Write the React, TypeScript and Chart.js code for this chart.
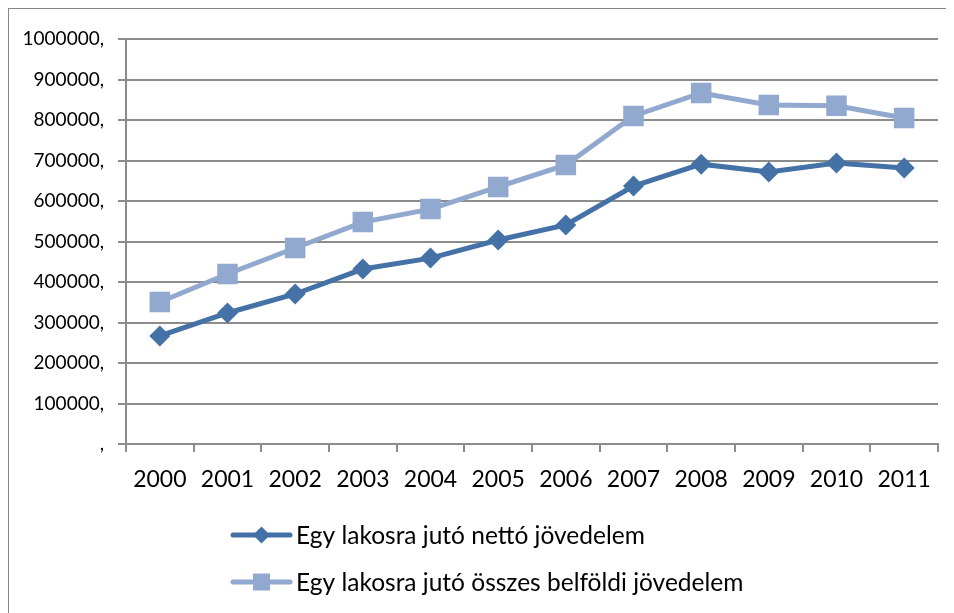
import React, { useEffect, useRef } from "react";
import { Chart, registerables } from "chart.js";

Chart.register(...registerables);

const years = ["2000", "2001", "2002", "2003", "2004", "2005", "2006", "2007", "2008", "2009", "2010", "2011"];
const netIncome = [266700, 323500, 370400, 432000, 459000, 503700, 540700, 637000, 691000, 671600, 693800, 681500];
const totalIncome = [350600, 419800, 484000, 548000, 580000, 634600, 689000, 810000, 866700, 837000, 835000, 805000];
const seriesNames = ["Egy lakosra jutó nettó jövedelem", "Egy lakosra jutó összes belföldi jövedelem"];

const DARK = "#4471A6";
const LIGHT = "#91A8CF";
const GRID = "#8C8C8C";
const FONT = "Lato, 'Open Sans', sans-serif";

const legendPlugin = {
  id: "customLegend",
  afterDraw(chart: any) {
    const ctx = chart.ctx;
    const items = [
      { label: seriesNames[0], color: DARK, style: "rectRot", r: 8.5 },
      { label: seriesNames[1], color: LIGHT, style: "rect", r: 12 },
    ];
    const x0 = 224;
    const x1 = 281;
    const ys = [526, 573];
    ctx.save();
    items.forEach((it, i) => {
      const y = ys[i];
      ctx.strokeStyle = it.color;
      ctx.lineWidth = 5;
      ctx.lineCap = "round";
      ctx.beginPath();
      ctx.moveTo(x0, y);
      ctx.lineTo(x1, y);
      ctx.stroke();
      ctx.fillStyle = it.color;
      const cx = (x0 + x1) / 2;
      if (it.style === "rectRot") {
        ctx.beginPath();
        ctx.moveTo(cx, y - it.r);
        ctx.lineTo(cx + it.r, y);
        ctx.lineTo(cx, y + it.r);
        ctx.lineTo(cx - it.r, y);
        ctx.closePath();
        ctx.fill();
      } else {
        const h = it.r * Math.SQRT1_2;
        ctx.fillRect(cx - h, y - h, 2 * h, 2 * h);
      }
      ctx.fillStyle = "#000";
      ctx.font = `24.5px ${FONT}`;
      ctx.textBaseline = "middle";
      ctx.textAlign = "left";
      ctx.fillText(it.label, x1 + 6, y + 1);
    });
    ctx.restore();
  },
};

export default function App() {
  const ref = useRef<HTMLCanvasElement>(null);
  useEffect(() => {
    if (!ref.current) return;
    const chart = new Chart(ref.current, {
      type: "line",
      data: {
        labels: years,
        datasets: [
          {
            label: seriesNames[0],
            data: netIncome,
            borderColor: DARK,
            backgroundColor: DARK,
            borderWidth: 5,
            pointStyle: "rectRot",
            pointRadius: 10.5,
            pointBorderWidth: 0,
            tension: 0,
          },
          {
            label: seriesNames[1],
            data: totalIncome,
            borderColor: LIGHT,
            backgroundColor: LIGHT,
            borderWidth: 5,
            pointStyle: "rect",
            pointRadius: 14.5,
            pointBorderWidth: 0,
            tension: 0,
          },
        ],
      },
      plugins: [legendPlugin],
      options: {
        animation: false,
        responsive: false,
        devicePixelRatio: 1,
        layout: { padding: { top: 30, right: 21, bottom: 130, left: 0 } },
        plugins: { legend: { display: false }, tooltip: { enabled: false } },
        scales: {
          x: {
            offset: true,
            grid: {
              offset: true,
              drawOnChartArea: false,
              drawTicks: true,
              tickLength: 8,
              color: GRID,
              lineWidth: 2,
            },
            border: { color: GRID, width: 2 },
            ticks: { color: "#000", font: { family: FONT, size: 23 }, padding: 14, maxRotation: 0 },
            afterFit: (s: any) => {
              s.height = 45;
            },
          },
          y: {
            min: 0,
            max: 1000000,
            grid: { color: GRID, lineWidth: 2, tickLength: 8 },
            border: { color: GRID, width: 2 },
            ticks: {
              stepSize: 100000,
              color: "#000",
              font: { family: FONT, size: 19 },
              padding: 14,
              callback: (v: any) => (Number(v) === 0 ? "," : `${v},`),
            },
            afterFit: (s: any) => {
              s.width = 117;
            },
          },
        },
      },
    });
    return () => chart.destroy();
  }, []);
  return (
    <div style={{ width: 950, height: 610, border: "1px solid #868686", background: "#fff" }}>
      <canvas ref={ref} width={950} height={610} style={{ display: "block" }} />
    </div>
  );
}
